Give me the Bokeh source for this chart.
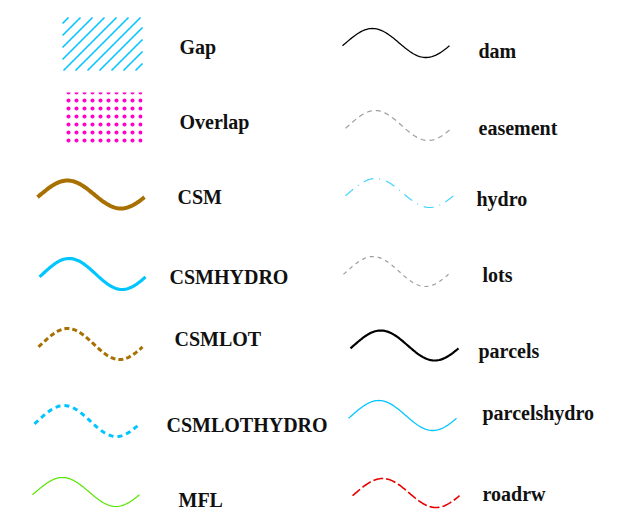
import numpy as np
from bokeh.plotting import figure
from bokeh.models import Range1d
from bokeh.core.properties import value
from bokeh.embed import file_html
from bokeh.resources import INLINE

# ---- data: legend categories and their symbology ----
fill_labels = ["Gap", "Overlap"]
fill_colors = ["#00C5FF", "#FF00C5"]

line_labels = ["CSM", "CSMHYDRO", "CSMLOT", "CSMLOTHYDRO", "MFL",
               "dam", "easement", "hydro", "lots", "parcels", "parcelshydro", "roadrw"]
line_colors = ["#A87000", "#00C5FF", "#A87000", "#00C5FF", "#55E600",
               "#000000", "#9C9C9C", "#00C5FF", "#9C9C9C", "#000000", "#00C5FF", "#E60000"]
line_dashes = ["solid", "solid", "5 3", "5 4", "solid",
               "solid", "5 4", "10 6 1 6", "4 4", "solid", "solid", "10 3"]

# ---- layout (screen pixels in the page) ----
W, H = 641, 509
fill_boxes = [(62, 142, 17, 70), (63, 142, 92, 145)]          # x0, x1, y0, y1
fill_text = [(179, 52), (179, 127)]                           # x, baseline
line_boxes = [(37, 144, 180, 208), (39, 145, 258, 289), (38, 142, 328, 359),
              (34, 139, 405, 436), (32, 139, 477, 506),
              (342, 449, 28, 57), (345, 451, 110, 140), (345, 453, 178, 207),
              (343, 448, 256, 286), (350, 458, 330, 360), (348, 456, 400, 430),
              (352, 459, 478, 507)]
line_text = [(177, 202), (169, 282), (174, 344), (166, 430), (178, 505),
             (478, 56), (478, 133), (476, 204), (482, 280), (478, 356),
             (482, 418), (482, 499)]
TEXT_SHIFT = -6
line_widths = [4, 3.2, 3, 3, 1.2, 1.3, 1.2, 1.2, 1.2, 2.2, 1.3, 1.6]
line_alphas = [1, 1, 1, 1, 1, 1, 1, 0.75, 1, 1, 1, 1]

p = figure(width=W, height=H, output_backend="svg", toolbar_location=None,
           x_range=Range1d(0, W), y_range=Range1d(H, 0), min_border=0)
p.axis.visible = False
p.grid.visible = False
p.outline_line_color = None
p.background_fill_color = "white"
p.border_fill_color = "white"

FONT = value("Liberation Serif")


def label(x, y, s):
    p.text(x=[x], y=[y + TEXT_SHIFT], text=[s], text_font=FONT, text_font_style="bold",
           text_font_size="20px", text_color="#111111", text_baseline="alphabetic")


# Gap: 45-degree diagonal hatch clipped to its box
x0, x1, y0, y1 = fill_boxes[0]
sp = 12
xs0, ys0, xs1, ys1 = [], [], [], []
for c in np.arange(x0 + y0 + sp / 2, x1 + y1, sp):
    ax = max(x0, c - y1); ay = c - ax
    bx = min(x1, c - y0); by = c - bx
    if bx > ax:
        xs0.append(ax); ys0.append(ay); xs1.append(bx); ys1.append(by)
p.segment(xs0, ys0, xs1, ys1, line_color=fill_colors[0], line_width=1.6)
label(*fill_text[0], fill_labels[0])

# Overlap: pink stipple
x0, x1, y0, y1 = fill_boxes[1]
p.quad(left=x0, right=x1, top=y0, bottom=y1,
       fill_alpha=0, line_color=None, hatch_pattern=".", hatch_color=fill_colors[1],
       hatch_scale=8, hatch_weight=1.5)
label(*fill_text[1], fill_labels[1])

t = np.linspace(0, 1, 80)
wave = np.cos(2 * np.pi * (t - 0.28))
for lab, col, dash, (bx0, bx1, by0, by1), (tx, ty), lw, la in zip(
        line_labels, line_colors, line_dashes, line_boxes, line_text, line_widths, line_alphas):
    xs = bx0 + t * (bx1 - bx0)
    ys = by0 + (1 - wave) / 2 * (by1 - by0)
    p.line(xs, ys, line_color=col, line_width=lw, line_dash=dash, line_alpha=la, line_cap="butt")
    label(tx, ty, lab)

open("out.html", "w").write(file_html(p, INLINE))
